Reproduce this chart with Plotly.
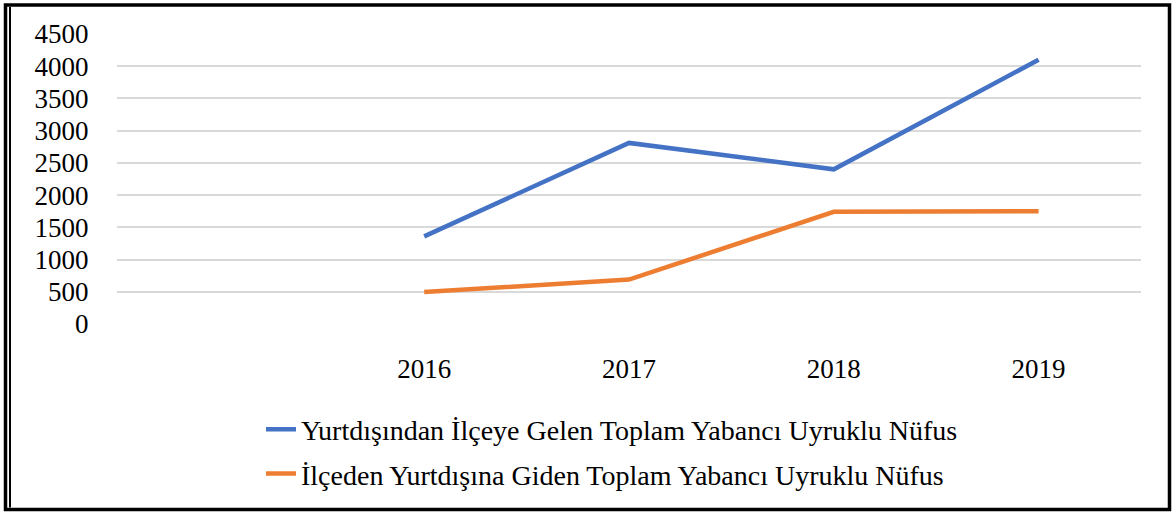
import plotly.graph_objects as go

years = [2016, 2017, 2018, 2019]
gelen = [1360, 2810, 2400, 4100]
giden = [495, 690, 1740, 1750]
series_names = [
    "Yurtdışından İlçeye Gelen Toplam Yabancı Uyruklu Nüfus",
    "İlçeden Yurtdışına Giden Toplam Yabancı Uyruklu Nüfus",
]
y_ticks = [0, 500, 1000, 1500, 2000, 2500, 3000, 3500, 4000, 4500]

font_name = "Liberation Serif"

# plot area in pixels, used to place the page frame and legend
L, T, W, H = 117, 34, 1024, 290.3


def px(x):
    return (x - L) / W


def py(y):
    return (T + H - y) / H


fig = go.Figure()
fig.add_trace(go.Scatter(x=years, y=gelen, mode="lines", name=series_names[0],
                         legendgroup="a",
                         line=dict(color="#4472C4", width=4.5)))
fig.add_trace(go.Scatter(x=years, y=giden, mode="lines", name=series_names[1],
                         legendgroup="b",
                         line=dict(color="#ED7D31", width=4.5)))

fig.update_xaxes(
    range=[2014.5, 2019.5],
    tickvals=years,
    ticktext=[str(y) for y in years],
    showgrid=False,
    zeroline=False,
    showline=False,
    automargin=False,
    ticks="outside",
    ticklen=21,
    tickcolor="rgba(0,0,0,0)",
    tickfont=dict(family=font_name, size=27, color="#000000"),
)
fig.update_yaxes(
    range=[0, 4500],
    tickvals=y_ticks,
    showgrid=True,
    gridcolor="#d9d9d9",
    gridwidth=1.5,
    zeroline=False,
    showline=False,
    automargin=False,
    ticks="outside",
    ticklen=22,
    tickcolor="rgba(0,0,0,0)",
    tickfont=dict(family=font_name, size=27, color="#000000"),
)

# page frame: heavy outer border plus a second thin line on the left
fig.add_shape(type="rect", xref="paper", yref="paper",
              x0=px(5.5), x1=px(1169.5), y0=py(510), y1=py(5),
              line=dict(color="black", width=3.5), fillcolor="rgba(0,0,0,0)")
fig.add_shape(type="line", xref="paper", yref="paper",
              x0=px(10), x1=px(10), y0=py(508), y1=py(7),
              line=dict(color="black", width=2))

fig.update_layout(
    width=1172,
    height=512,
    margin=dict(l=L, r=1172 - L - W, t=T, b=512 - T - H),
    paper_bgcolor="white",
    plot_bgcolor="white",
    font=dict(family=font_name, size=27, color="#000000"),
    showlegend=True,
    legend=dict(
        orientation="v",
        x=px(261), xanchor="left",
        y=py(499), yanchor="bottom",
        tracegroupgap=5,
        font=dict(family=font_name, size=28, color="#000000"),
        bgcolor="rgba(0,0,0,0)",
    ),
)

fig.write_html("out.html", config={"displayModeBar": False},
               post_script="document.body.style.margin='0px';")
